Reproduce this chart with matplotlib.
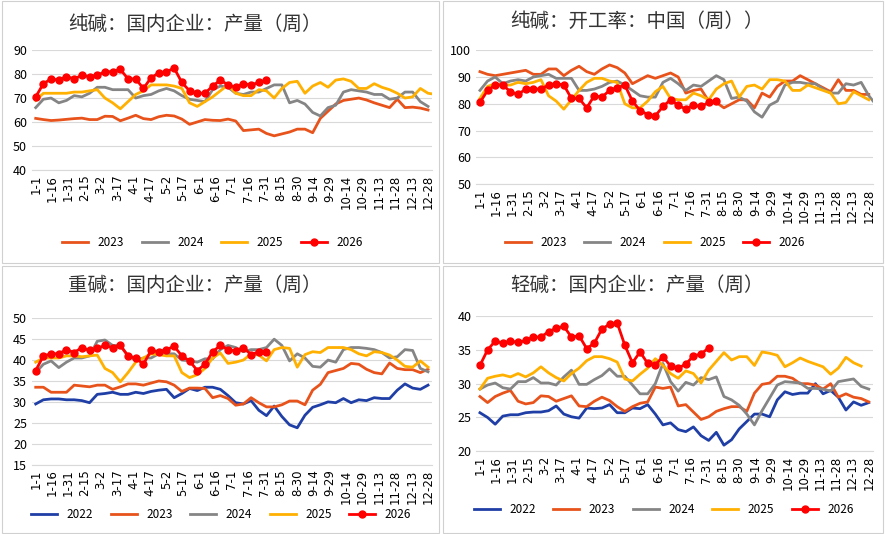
import numpy as np
import matplotlib.pyplot as plt
from matplotlib.patches import Rectangle

plt.rcParams['font.family'] = ['Noto Sans CJK SC', 'DejaVu Sans']

ticks = ['1-1', '1-16', '1-31', '2-15', '3-2', '3-17', '4-1', '4-17', '5-2', '5-17', '6-1', '6-16',
         '7-1', '7-16', '7-31', '8-15', '8-30', '9-14', '9-29', '10-14', '10-29', '11-13', '11-28',
         '12-13', '12-28']

# 纯碱 产量
p1_2023 = [61.5, 61, 60.6, 60.8, 61.1, 61.4, 61.6, 61, 61, 62.4, 62.3, 60.5, 61.6, 62.8, 61.4, 61, 62.2, 62.8,
           62.5, 61.2, 59, 60, 61, 60.7, 60.6, 61.2, 60.4, 56.4, 56.7, 57, 55.2, 54.2, 55, 55.8, 57, 57, 55.5,
           61.5, 64.5, 67.5, 69, 69.5, 70, 69.2, 68, 67, 66, 69.5, 66, 66.2, 65.8, 65]
p1_2024 = [66, 69.5, 70, 68, 69, 71, 70.5, 72, 74.5, 74.5, 73.5, 73.5, 73.5, 70, 71, 71.5, 73, 74, 73, 71, 69.5,
           69, 68.5, 73.5, 75, 74.5, 72, 71.5, 72.5, 72.5, 74, 75.5, 75.5, 68, 69, 67.5, 64, 62.5, 66, 67, 72.5,
           73.5, 73, 72.5, 71.5, 71.5, 69.5, 70, 72.5, 72.5, 68.5, 66.5]
p1_2025 = [69, 72, 72, 72, 72, 72.5, 72.5, 73, 73.5, 70, 68, 65.5, 68.5, 71.5, 73, 75.5, 75.5, 75.5, 75, 74, 68,
           66.5, 68.5, 70.5, 73, 75.5, 72, 71, 71, 73.5, 73, 70, 74, 76.5, 77, 72, 75, 76.5, 74.5, 77.5, 78, 77,
           74, 74, 76, 74.5, 73.5, 72, 70, 70.5, 74, 72, 71.5]
p1_2026 = [70.5, 76, 78, 77.5, 79, 78, 79.5, 79, 79.5, 81, 81, 82, 78, 78, 74, 78.5, 80.5, 81, 82.5, 76.5, 73,
           72, 72, 75, 77.5, 75.5, 74.5, 76, 75.5, 76.5, 77.5]

# 纯碱 开工率
p2_2023 = [92, 91, 90.5, 91, 91.5, 92, 92.5, 91, 91, 93, 93, 90.5, 92.5, 94, 92, 91, 93, 94.5, 93.5, 91.5, 87.5,
           89, 90.5, 89.5, 90.5, 91.5, 90, 84, 85, 85.5, 81, 80.5, 78.5, 80, 81.5, 81.5, 78.5, 84, 82.5, 86.5,
           88.5, 88.5, 90.5, 89, 87.5, 86, 84.5, 89, 85, 85, 83.5, 83.5]
p2_2024 = [85, 88.5, 90, 87.5, 88.5, 89, 88.5, 90, 90.5, 91, 89.5, 89.5, 89.5, 85, 85, 85.5, 86.5, 88, 88.5, 87,
           85, 83, 82.5, 82.5, 88, 89.5, 87.5, 85, 87, 86.5, 88.5, 90.5, 89, 82, 82.5, 81, 77, 75, 79.5, 81, 87,
           88, 88, 87.5, 87.5, 85.5, 84, 84, 87.5, 87, 88, 83, 79.5]
p2_2025 = [82, 86.5, 87.5, 87, 87, 88, 87.5, 88, 89, 83, 81, 78, 81.5, 85, 88, 89.5, 89.5, 88.5, 88, 80, 78.5,
           78.5, 81, 84.5, 86.5, 82, 81.5, 81.5, 84, 83, 81.5, 85.5, 87.5, 88.5, 82.5, 86.5, 87, 85.5, 89, 89,
           88.5, 85, 85, 87, 86, 85, 84, 80, 80.5, 84.5, 83, 81.5]
p2_2026 = [80.5, 85, 87, 87, 84.5, 83.5, 85.5, 85.5, 85.5, 87, 87.5, 87, 82, 82, 78.5, 83, 82.5, 85, 86, 87, 81,
           77.5, 76, 75.5, 79, 81.5, 79.5, 78, 79.5, 79, 80.5, 81]

# 重碱 产量
p3_2022 = [29.5, 30.5, 30.7, 30.7, 30.5, 30.5, 30.3, 29.8, 31.8, 32, 32.3, 31.8, 31.8, 32.3, 32, 32.5, 32.8, 33,
           31, 32, 33.2, 32.7, 33.5, 33.5, 33, 31.5, 29.8, 29.5, 30.3, 28, 26.7, 29, 26.5, 24.5, 23.8, 26.8, 28.7,
           29.3, 30, 29.8, 30.8, 29.8, 30.5, 30.3, 31, 30.8, 30.8, 32.8, 34.3, 33.3, 33, 34]
p3_2023 = [33.5, 33.5, 32.3, 32.3, 32.3, 34, 33.8, 33.6, 34, 34, 33, 33.6, 34.3, 34.3, 34, 34.5, 35, 34.8, 34,
           32.5, 33.3, 33.3, 33.2, 31, 31.5, 30.8, 29.2, 29.5, 31, 29.8, 28.8, 28.8, 29.3, 30.2, 30.2, 29.3, 32.8,
           34.2, 37, 37.5, 38, 39.2, 39, 37.8, 37, 36.7, 39.3, 38, 37.7, 37.7, 37, 37.8]
p3_2024 = [37, 39, 39.8, 38.2, 39.5, 40.5, 40.5, 41, 44.5, 44.8, 43.5, 43.5, 41, 40, 40.5, 40.5, 41.5, 41.5,
           41.5, 40, 39.8, 39.5, 40.3, 40.3, 42.5, 43.5, 43, 42, 42.5, 42.5, 43, 45, 43.5, 39.8, 41.5, 40.5, 38.5,
           38.3, 40, 39.5, 42.5, 43, 43, 42.8, 42.5, 41.8, 40.5, 40.8, 42.5, 42.3, 38, 37.2]
p3_2025 = [39.5, 40.5, 40.5, 40.5, 41, 41, 40.8, 41, 41.2, 38, 37, 34.8, 37, 39.5, 40.5, 41.5, 41.3, 41, 41, 37,
           35.8, 36.5, 38, 40.5, 41.7, 39.2, 39.5, 40, 41.5, 41.2, 39.8, 42.5, 43, 42.8, 38.3, 41.3, 42, 41.8, 43,
           43, 43, 42.5, 41.5, 41, 42, 41.8, 41.2, 40, 38.5, 38.3, 39.8, 38.3]
p3_2026 = [37.5, 41, 41.5, 41.5, 42.5, 41.8, 43, 42.3, 42.8, 43.5, 43, 43.5, 41, 40.5, 39, 42.3, 42, 42.5, 43.3,
           41, 39.8, 37.5, 39, 42, 43.5, 42.5, 42.2, 43, 41.3, 42, 42]

# 轻碱 产量
p4_2022 = [25.7, 25, 24, 25.2, 25.4, 25.4, 25.7, 25.8, 25.8, 26, 26.7, 25.5, 25.1, 24.9, 26.4, 26.3, 26.4, 26.9,
           25.7, 25.7, 26.4, 26.3, 26.9, 25.5, 23.9, 24.2, 23.2, 22.9, 23.6, 22.3, 21.6, 22.8, 20.9, 21.7, 23.3,
           24.4, 25.5, 25.5, 25.1, 27.6, 28.8, 28.4, 28.6, 28.6, 30, 28.5, 29, 28, 26.1, 27.3, 26.8, 27.2]
p4_2023 = [28.1, 27.2, 28.1, 28.6, 29, 27.4, 27, 27.2, 28.2, 28.1, 27.4, 27.8, 28.2, 26.7, 26.6, 27.4, 28, 27.5,
           26.6, 25.9, 26.6, 27.1, 27.3, 29.5, 29.3, 29.5, 26.7, 26.9, 25.8, 24.7, 25.1, 25.9, 26.3, 26.6, 26.6,
           25.9, 28.6, 29.9, 30.1, 31.1, 31.1, 30.8, 30, 30, 29.8, 29.2, 30, 28, 28.5, 28, 27.8, 27.3]
p4_2024 = [29.2, 29.8, 30.1, 29.4, 29.2, 30.3, 30.3, 30.9, 30.1, 30.1, 29.8, 31, 32, 29.9, 29.9, 30.6, 31.2, 32.2,
           31.1, 31.1, 29.8, 28.5, 28.5, 30, 33, 30.3, 28.9, 30.2, 29.8, 30.9, 30.6, 31, 28.1, 27.6, 26.8, 25.5,
           23.9, 26, 27.9, 29.8, 30.3, 30.2, 30.1, 29.3, 29.3, 29.2, 28.9, 30.3, 30.5, 30.7, 29.6, 29.2]
p4_2025 = [29.2, 30.8, 31.1, 31.3, 31, 31.5, 31, 31.6, 32.5, 31.6, 30.9, 30.4, 31.5, 32.3, 33.4, 34, 34, 33.7,
           33.2, 30.7, 30.4, 31.4, 32.3, 33.7, 32.7, 31.5, 30.8, 31.9, 31.5, 30.1, 32, 33.3, 34.6, 33.5, 34, 34,
           32.7, 34.7, 34.5, 34.2, 32.5, 33.1, 33.8, 33.3, 32.9, 32.5, 31.4, 32.3, 33.9, 33.1, 32.6]
p4_2026 = [32.7, 35, 36.3, 36, 36.3, 36.1, 36.4, 36.9, 36.9, 37.7, 38.2, 38.5, 36.9, 37.1, 35.2, 36, 38.1, 38.8,
           39, 35.7, 33.1, 34.7, 33, 32.8, 34, 32.6, 32.3, 32.9, 34.1, 34.4, 35.3]

colors = {'2022': '#1f3fa6', '2023': '#e8531c', '2024': '#858585', '2025': '#ffb000', '2026': '#ff0000'}
NPTS = 52

fig = plt.figure(figsize=(8.85, 5.34), dpi=100)

# panel frames
for (x0, y0, w, h) in [(0.002, 0.508, 0.494, 0.49), (0.5, 0.508, 0.498, 0.49),
                       (0.002, 0.002, 0.494, 0.5), (0.5, 0.002, 0.498, 0.5)]:
    fig.patches.append(Rectangle((x0, y0), w, h, transform=fig.transFigure, fill=False,
                                 edgecolor='#d0d0d0', linewidth=0.8))


def panel(rect, title, title_xy, series, ylim, ystep, legend_xy):
    ax = fig.add_axes(rect)
    for name, vals in series:
        x = np.arange(len(vals))
        if name == '2026':
            ax.plot(x, vals, color=colors[name], lw=2, marker='o', ms=5, label=name, zorder=5)
        else:
            ax.plot(x, vals, color=colors[name], lw=2, label=name)
    ax.set_ylim(*ylim)
    ax.set_yticks(np.arange(ylim[0], ylim[1] + 0.1, ystep))
    ax.set_xlim(-0.5, NPTS - 0.5)
    ax.set_xticks(np.linspace(0, NPTS - 1, len(ticks)))
    ax.set_xticklabels(ticks, rotation=90, fontsize=8.5, family='DejaVu Sans')
    ax.tick_params(axis='y', labelsize=9, length=0)
    ax.tick_params(axis='x', length=0)
    ax.grid(axis='y', color='#d9d9d9', lw=0.8)
    ax.set_axisbelow(True)
    for s in ['top', 'right', 'left']:
        ax.spines[s].set_visible(False)
    ax.spines['bottom'].set_color('#d9d9d9')
    fig.text(title_xy[0], title_xy[1], title, fontsize=14, ha='center', va='center', color='#333333')
    ax.legend(loc='center', bbox_to_anchor=legend_xy, bbox_transform=fig.transFigure,
              ncol=len(series), frameon=False, fontsize=8.5, handlelength=2.2, columnspacing=1.5)
    return ax


panel([0.036, 0.682, 0.452, 0.224], '纯碱：国内企业：产量（周）', (0.22, 0.955),
      [('2023', p1_2023), ('2024', p1_2024), ('2025', p1_2025), ('2026', p1_2026)],
      (40, 90), 10, (0.24, 0.545))
panel([0.538, 0.655, 0.448, 0.251], '纯碱：开工率：中国（周））', (0.72, 0.96),
      [('2023', p2_2023), ('2024', p2_2024), ('2025', p2_2025), ('2026', p2_2026)],
      (50, 100), 10, (0.74, 0.545))
panel([0.036, 0.13, 0.452, 0.274], '重碱：国内企业：产量（周）', (0.22, 0.465),
      [('2022', p3_2022), ('2023', p3_2023), ('2024', p3_2024), ('2025', p3_2025), ('2026', p3_2026)],
      (15, 50), 5, (0.25, 0.037))
panel([0.538, 0.155, 0.448, 0.253], '轻碱：国内企业：产量（周）', (0.72, 0.465),
      [('2022', p4_2022), ('2023', p4_2023), ('2024', p4_2024), ('2025', p4_2025), ('2026', p4_2026)],
      (20, 40), 5, (0.75, 0.045))

fig.savefig('out.png', dpi=100)
